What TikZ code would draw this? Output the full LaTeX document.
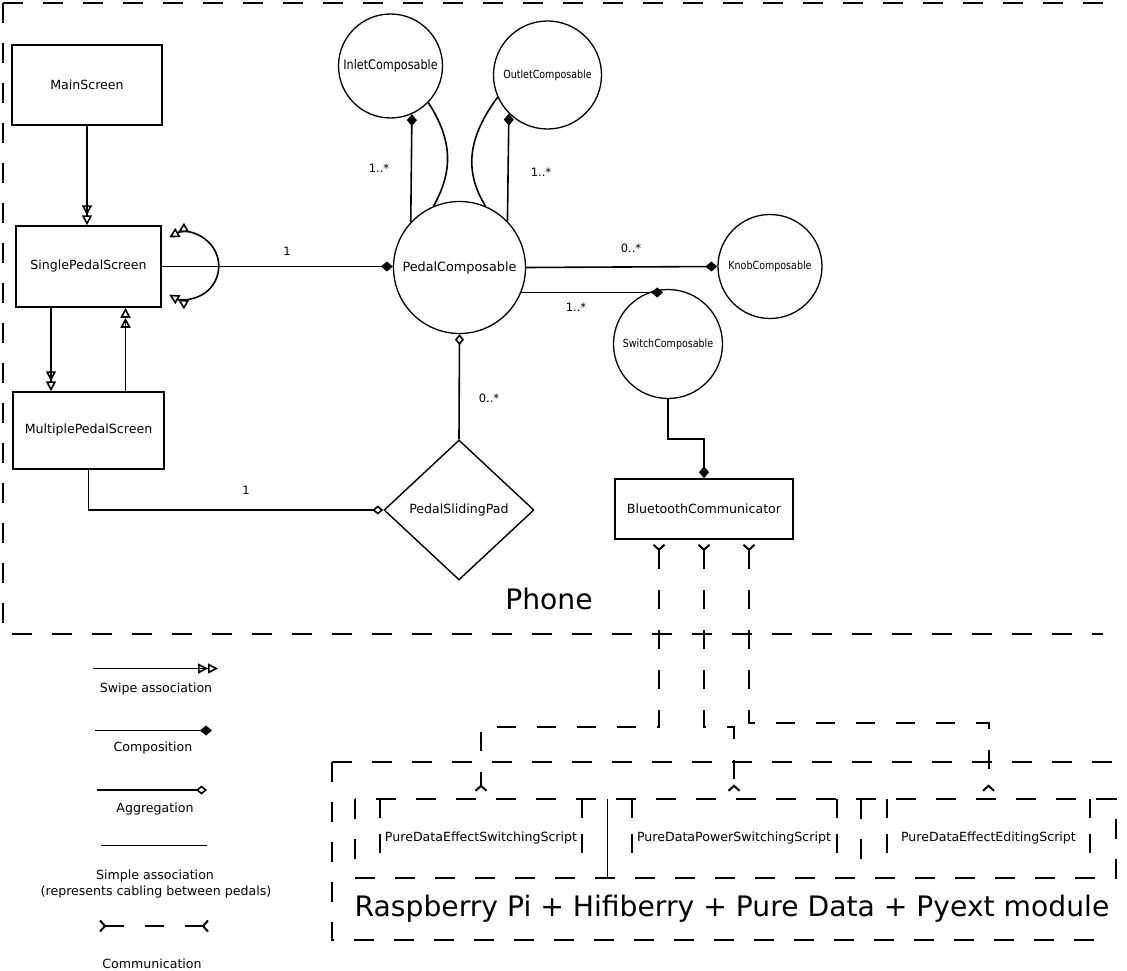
\documentclass[tikz,border=0pt]{standalone}
\usepackage{fontspec}
\setmainfont{DejaVu Sans}
\newfontfamily\condfont[FakeStretch=0.85]{DejaVu Sans}
\usetikzlibrary{arrows.meta,shapes.geometric,calc}
\tikzset{
  box/.style={draw, line width=1.5pt, rectangle, inner sep=0pt, font=\fontsize{12.6}{14}\selectfont},
  circ/.style={draw, line width=1.3pt, circle, inner sep=0pt, font=\condfont\fontsize{11.2}{13}\selectfont},
  padshape/.style={draw, line width=1.4pt, diamond, inner sep=0pt, minimum width=150pt, minimum height=140pt, font=\fontsize{12.6}{14}\selectfont},
  scr/.style={inner sep=0pt, minimum height=79pt, font=\fontsize{12.6}{14}\selectfont},
  lbl/.style={inner sep=0pt, font=\fontsize{11.5}{13}\selectfont},
  legtext/.style={inner sep=0pt, font=\fontsize{12.6}{14}\selectfont},
  big/.style={inner sep=0pt, font=\fontsize{28.2}{31}\selectfont},
  conn/.style={line width=1.6pt},
  tri/.style={},
  swipe/.style={conn, -{Triangle[open,length=10pt,width=10pt] Triangle[open,length=10pt,width=10pt]}},
  swipeboth/.style={conn, {Triangle[open,length=10pt,width=10pt] Triangle[open,length=10pt,width=10pt]}-{Triangle[open,length=10pt,width=10pt] Triangle[open,length=10pt,width=10pt]}},
  comp/.style={conn, -{Diamond[length=12pt,width=10pt]}},
  aggr/.style={conn, -{Diamond[open,length=11pt,width=9pt]}},
  comm/.style={line width=2pt, dash pattern=on 19pt off 21pt, {Straight Barb[reversed,length=5pt,width=11pt]}-{Straight Barb[reversed,length=5pt,width=11pt]}},
  cont/.style={line width=2pt, dash pattern=on 20pt off 20pt},
  innerside/.style={line width=2pt, dash pattern=on 19pt off 16pt},
}
\begin{document}
\begin{tikzpicture}[x=1pt,y=-1pt]
\useasboundingbox (0,0) rectangle (1127,971);

% ---- Phone container
\coordinate (ph1) at (3,3);
\coordinate (ph2) at (1103,3);
\coordinate (ph3) at (3,634);
\coordinate (ph4) at (1103,634);
\draw[cont] (ph1) -- (ph2);
\draw[cont] (ph1) -- (ph3) -- (ph4);
\node[big] (phone) at (549,599) {Phone};

% ---- nodes
\node[box, minimum width=150pt, minimum height=80pt] (main) at (87,85) {MainScreen};
\node[box, minimum width=145pt, minimum height=81pt] (single) at (88.5,266.5) {SinglePedalScreen};
\node[box, minimum width=151pt, minimum height=77pt] (multi) at (88.5,430.5) {MultiplePedalScreen};
\node[circ, minimum size=132pt, font=\fontsize{12.8}{14}\selectfont] (pedal) at (459.5,267.5) {PedalComposable};
\node[circ, minimum size=104pt, font=\condfont\fontsize{13.2}{15}\selectfont] (inlet) at (390.5,66) {InletComposable};
\node[circ, minimum size=108pt] (outlet) at (547.5,75) {OutletComposable};
\node[circ, minimum size=104pt] (knob) at (770,266.5) {KnobComposable};
\node[circ, minimum size=109pt] (switch) at (668,344) {SwitchComposable};
\node[padshape] (pad) at (459,510) {PedalSlidingPad};
\node[box, minimum width=178pt, minimum height=60pt] (bt) at (704,509) {BluetoothCommunicator};

% ---- connectors in Phone
\draw[swipe] (main.south) -- (main.south |- single.north);
\draw[swipe] (single.south -| 51,0) -- (multi.north -| 51,0);
\draw[swipe] (multi.north -| 125.5,0) -- (single.south -| 125.5,0);
\draw[swipeboth] ($(single.east)+(7.5,-29)$) arc[start angle=120, end angle=-120, radius=33pt];
\draw[comp] (single.east) -- (single.east -| pedal.west);
\node[lbl] (l1) at (287,251) {1};

\draw[comp] (pedal.137) -- (inlet.-66);
\node[lbl] (l2) at (379,168) {1..*};
\draw[conn] (inlet.-44) .. controls +(23,36) and +(21,-37) .. (pedal.113);
\draw[conn] (outlet.204) .. controls +(-28,38) and +(-23,-37) .. (pedal.67);
\draw[comp] (pedal.44) -- (outlet.-135.5);
\node[lbl] (l3) at (541,172) {1..*};

\draw[comp] (pedal.east) -- (knob.west);
\node[lbl] (l4) at (631,248) {0..*};
\draw[comp] (pedal.-22) -- (pedal.-22 -| switch.95);
\node[lbl] (l5) at (576,307) {1..*};
\draw[aggr] (pad.north) -- (pedal.south);
\node[lbl] (l6) at (489,398) {0..*};
\draw[aggr] (multi.south) |- (pad.west);
\node[lbl] (l7) at (246,490) {1};
\draw[comp] (switch.south) -- ++(0,40) -| (bt.north);

% ---- Raspberry container
\coordinate (rp1) at (332,762);
\coordinate (rp2) at (1113,762);
\coordinate (rp3) at (332,940);
\coordinate (rp4) at (1113,940);
\draw[cont] (rp1) -- (rp2);
\draw[cont] (rp1) -- (rp3) -- (rp4);
\node[big] (rpi) at (732,909) {Raspberry Pi + Hifiberry + Pure Data + Pyext module};

% ---- scripts
\node[scr, minimum width=252pt] (s1) at (481,838.5) {PureDataEffectSwitchingScript};
\node[scr, minimum width=254pt] (s2) at (734,838.5) {PureDataPowerSwitchingScript};
\node[scr, minimum width=255pt] (s3) at (988.5,838.5) {PureDataEffectEditingScript};
\draw[cont] (s1.north west) rectangle (s3.south east);
\draw[line width=0.8pt] (s1.north east) -- (s1.south east);
\draw[cont] (s2.north east) -- (s2.south east);
\foreach \s/\d in {s1/101, s2/102.5, s3/101.5} {
  \draw[innerside] ($(\s.north)+(-\d,0)$) -- ++(0,59);
  \draw[innerside] ($(\s.north)+(\d,0)$) -- ++(0,59);
}

% ---- communication
\draw[comm, shorten <=4pt, shorten >=7pt] ($(bt.south)+(-45,0)$) -- ++(0,187) -| (s1.north);
\draw[comm, shorten <=4pt, shorten >=7pt] (bt.south) -- ++(0,187) -| (s2.north);
\draw[comm, shorten <=4pt, shorten >=7pt] ($(bt.south)+(45,0)$) -- ++(0,183) -| (s3.north);

% ---- legend
\coordinate (g1a) at (93,668.5);  \coordinate (g1b) at (218,668.5);
\coordinate (g2a) at (95,730.5);  \coordinate (g2b) at (212,730.5);
\coordinate (g3a) at (97,790);    \coordinate (g3b) at (207,790);
\coordinate (g4a) at (101,845.5); \coordinate (g4b) at (207,845.5);
\coordinate (g5a) at (99,926);    \coordinate (g5b) at (209,926);
\draw[swipe] (g1a) -- (g1b);
\node[legtext] (t1) at (156,689.5) {Swipe association};
\draw[comp] (g2a) -- (g2b);
\node[legtext] (t2) at (153,748.5) {Composition};
\draw[aggr] (g3a) -- (g3b);
\node[legtext] (t3) at (155,809.5) {Aggregation};
\draw[conn] (g4a) -- (g4b);
\node[legtext] (t4) at (155,876.5) {Simple association};
\node[legtext] (t4b) at (156,892.5) {(represents cabling between pedals)};
\draw[comm] (g5a) -- (g5b);
\node[legtext] (t5) at (152,963.5) {Communication};
\end{tikzpicture}
\end{document}
